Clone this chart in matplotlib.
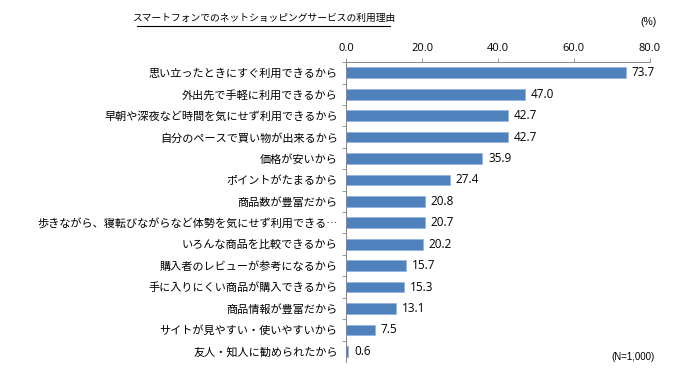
import matplotlib.pyplot as plt
from matplotlib.lines import Line2D

plt.rcParams['font.family'] = ['Noto Sans CJK JP', 'DejaVu Sans']

reasons = [
    "思い立ったときにすぐ利用できるから",
    "外出先で手軽に利用できるから",
    "早朝や深夜など時間を気にせず利用できるから",
    "自分のペースで買い物が出来るから",
    "価格が安いから",
    "ポイントがたまるから",
    "商品数が豊富だから",
    "歩きながら、寝転びながらなど体勢を気にせず利用できる…",
    "いろんな商品を比較できるから",
    "購入者のレビューが参考になるから",
    "手に入りにくい商品が購入できるから",
    "商品情報が豊富だから",
    "サイトが見やすい・使いやすいから",
    "友人・知人に勧められたから",
]
percent = [73.7, 47.0, 42.7, 42.7, 35.9, 27.4, 20.8, 20.7, 20.2, 15.7, 15.3, 13.1, 7.5, 0.6]
xticks = [0, 20, 40, 60, 80]

fig = plt.figure(figsize=(6.84, 3.74), dpi=100)
ax = fig.add_axes([0.506, 0.032, 0.444, 0.802])

pos = list(range(len(reasons)))
ax.barh(pos, percent, height=0.5, color="#4F81BD", edgecolor="#8DB3E2", linewidth=0.5)
for y, v in zip(pos, percent):
    ax.text(v + 1.5, y, f"{v:.1f}", va="center", ha="left", fontsize=8.5,
            family=["Open Sans", "DejaVu Sans"])

ax.set_ylim(len(reasons) - 0.5, -0.5)
ax.set_xlim(0, 80)
ax.set_xticks(xticks)
ax.set_xticklabels([f"{t:.1f}" for t in xticks], family=["Open Sans", "DejaVu Sans"], fontsize=8)
ax.xaxis.tick_top()
ax.tick_params(axis="x", length=3, width=0.6, color="#868686", pad=3)

ax.set_yticks(pos)
ax.set_yticklabels(reasons, fontsize=8)
ax.set_yticks([p + 0.5 for p in pos[:-1]] + [-0.5], minor=True)
ax.tick_params(axis="y", which="major", length=0, pad=6)
ax.tick_params(axis="y", which="minor", length=3, width=0.6, color="#868686")

for side in ["right", "bottom"]:
    ax.spines[side].set_visible(False)
for side in ["left", "top"]:
    ax.spines[side].set_color("#868686")
    ax.spines[side].set_linewidth(0.7)

fig.text(0.385, 0.952, "スマートフォンでのネットショッピングサービスの利用理由",
         ha="center", va="center", fontsize=7)
fig.add_artist(Line2D([0.200, 0.570], [0.930, 0.930], color="black", linewidth=0.8))
fig.text(0.948, 0.940, "(%)", ha="center", va="center", fontsize=7.5,
         family=["Liberation Sans", "DejaVu Sans"])
fig.text(0.925, 0.045, "(N=1,000)", ha="center", va="center", fontsize=7,
         family=["Liberation Sans", "DejaVu Sans"])

fig.savefig("out.png", dpi=100)
